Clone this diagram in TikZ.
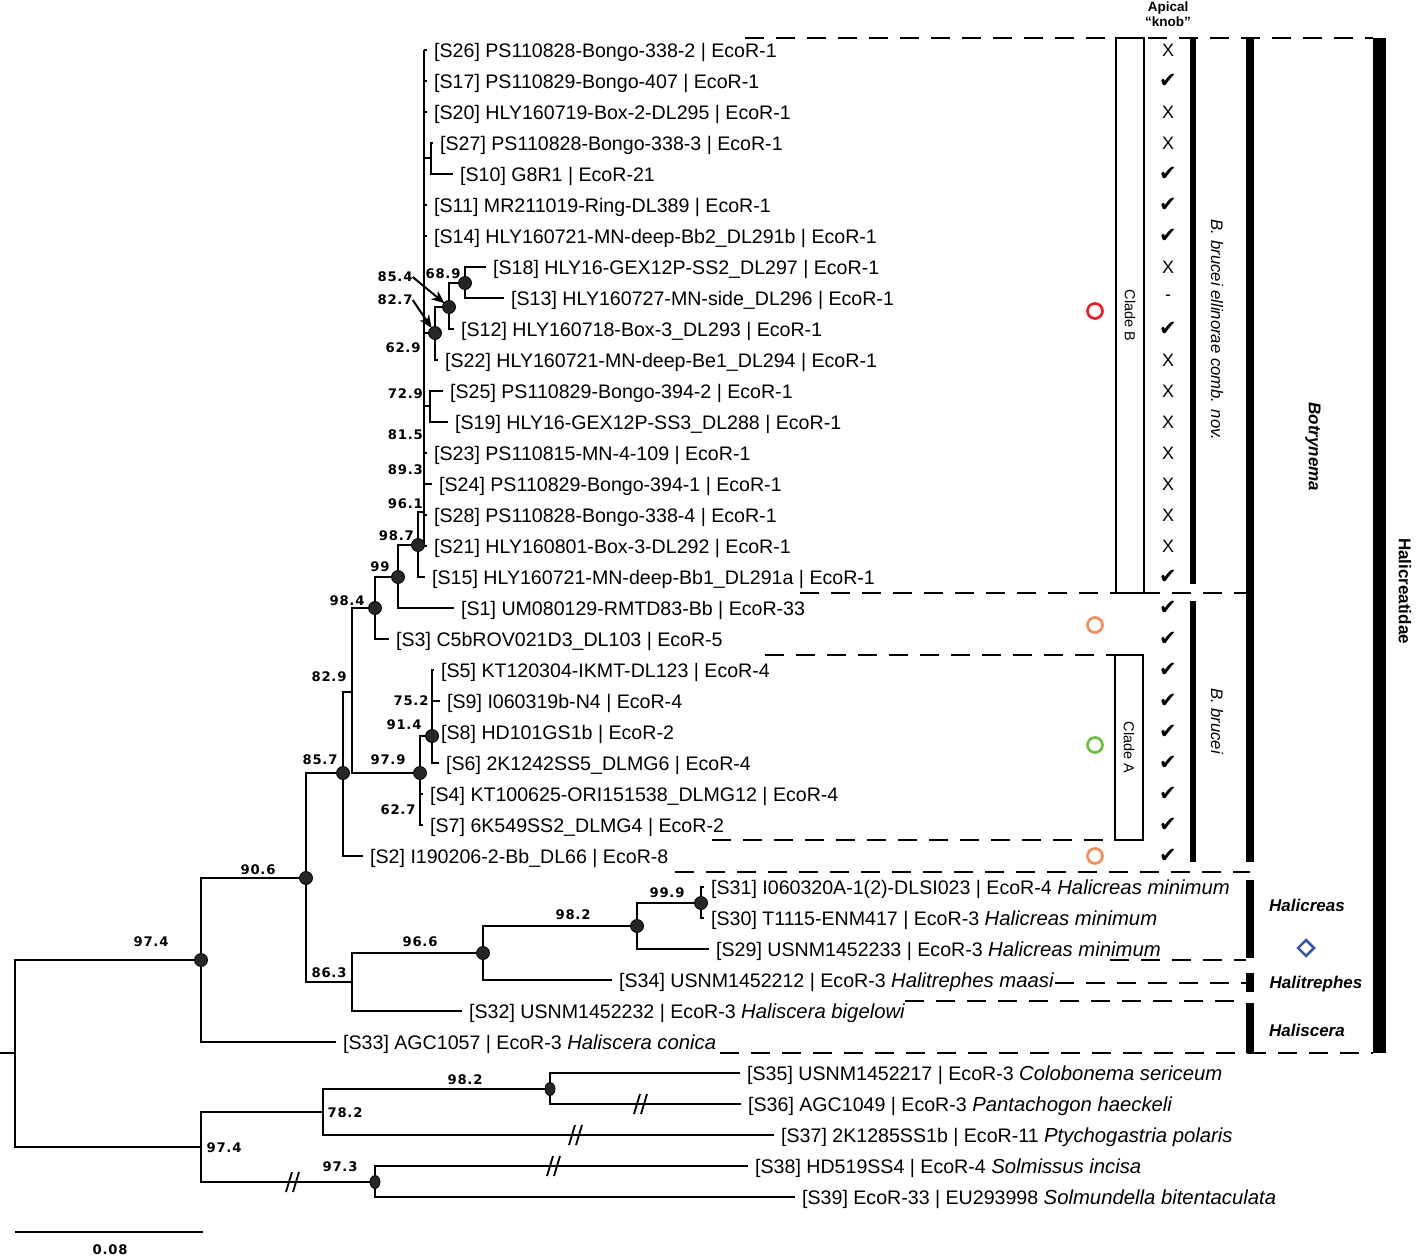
\documentclass[tikz,border=0pt]{standalone}
\usepackage{fontspec}
\setmainfont{Liberation Sans}
\newfontfamily\bsfont{DejaVu Sans}[LetterSpace=6]
\newfontfamily\checkfont{DejaVu Sans}
\usetikzlibrary{arrows.meta,shapes.geometric}

\definecolor{ringred}{HTML}{E32227}
\definecolor{ringorange}{HTML}{F28E5C}
\definecolor{ringgreen}{HTML}{6DBE45}
\definecolor{diamblue}{HTML}{3A55A4}

\newcommand{\kx}{X}
\newcommand{\kc}{{\checkfont\bfseries\fontsize{21}{21}\selectfont ✔}}
\newcommand{\kd}{-}
\newcommand{\spname}[1]{{\fontsize{20.3}{22}\selectfont\itshape #1}}

\begin{document}
\begin{tikzpicture}[x=1pt, y=-1pt,
    leaf/.style={anchor=west, inner xsep=7pt, inner ysep=0pt, text height=14pt, text depth=0pt, font=\fontsize{19.6}{22}\selectfont},
    bs/.style={inner sep=0pt, font=\bsfont\bfseries\fontsize{13.2}{13}\selectfont},
    branch/.style={line width=2.4pt},
    dot/.style={fill=black!85, draw=black, line width=0.8pt},
    cladeline/.style={line width=2.2pt, dash pattern=on 19pt off 12pt},
    knobsym/.style={inner sep=0pt, font=\fontsize{18}{18}\selectfont},
    ring/.style={circle, draw=#1, line width=2.7pt, minimum size=15pt, inner sep=0pt},
    cladebox/.style={draw, line width=1.8pt, rotate=-90, minimum height=28pt, inner sep=0pt, font=\fontsize{14.5}{15}\selectfont},
    taxon/.style={inner sep=0pt, font=\bfseries\itshape\fontsize{17}{17}\selectfont},
    brk/.style={line width=1.8pt},
    pointer/.style={line width=2pt, -{Stealth[length=13pt, width=11pt]}, shorten >=6pt}
]
    \useasboundingbox (0,0) rectangle (1416,1258);

    % Internal nodes
    \coordinate (rootstub) at (0,1053);
    \coordinate (root) at (15,1053);
    \coordinate (n974) at (201,960);
    \coordinate (n906) at (306,878);
    \coordinate (n857) at (343,773);
    \coordinate (n829) at (352,692);
    \coordinate (n984) at (375,608);
    \coordinate (n990) at (398,577);
    \coordinate (n987) at (418,545);
    \coordinate (n961) at (424,512);
    \coordinate (cbtop) at (424,50);
    \coordinate (cbbot) at (424,546);
    \coordinate (n2710) at (431,158);
    \coordinate (n827) at (435,333);
    \coordinate (n854) at (449,307);
    \coordinate (n689) at (465,283);
    \coordinate (n729) at (430,406);
    \coordinate (n979) at (420,773);
    \coordinate (n914) at (432,736);
    \coordinate (n863) at (352,982);
    \coordinate (n966) at (483,953);
    \coordinate (n982) at (637,926);
    \coordinate (n999) at (701,903);
    \coordinate (o974) at (201,1147);
    \coordinate (n782) at (323,1112);
    \coordinate (o982) at (550,1089);
    \coordinate (n973) at (375,1182);

    % Leaves
    \node[leaf] (s26) at (427,50) {[S26] PS110828-Bongo-338-2 | EcoR-1};
    \node[leaf] (s17) at (427,81) {[S17] PS110829-Bongo-407 | EcoR-1};
    \node[leaf] (s20) at (427,112) {[S20] HLY160719-Box-2-DL295 | EcoR-1};
    \node[leaf] (s27) at (433,143) {[S27] PS110828-Bongo-338-3 | EcoR-1};
    \node[leaf] (s10) at (453,174) {[S10] G8R1 | EcoR-21};
    \node[leaf] (s11) at (427,205) {[S11] MR211019-Ring-DL389 | EcoR-1};
    \node[leaf] (s14) at (427,236) {[S14] HLY160721-MN-deep-Bb2\_DL291b | EcoR-1};
    \node[leaf] (s18) at (486,267) {[S18] HLY16-GEX12P-SS2\_DL297 | EcoR-1};
    \node[leaf] (s13) at (504,298) {[S13] HLY160727-MN-side\_DL296 | EcoR-1};
    \node[leaf] (s12) at (454,329) {[S12] HLY160718-Box-3\_DL293 | EcoR-1};
    \node[leaf] (s22) at (438,360) {[S22] HLY160721-MN-deep-Be1\_DL294 | EcoR-1};
    \node[leaf] (s25) at (443,391) {[S25] PS110829-Bongo-394-2 | EcoR-1};
    \node[leaf] (s19) at (448,422) {[S19] HLY16-GEX12P-SS3\_DL288 | EcoR-1};
    \node[leaf] (s23) at (427,453) {[S23] PS110815-MN-4-109 | EcoR-1};
    \node[leaf] (s24) at (432,484) {[S24] PS110829-Bongo-394-1 | EcoR-1};
    \node[leaf] (s28) at (427,515) {[S28] PS110828-Bongo-338-4 | EcoR-1};
    \node[leaf] (s21) at (427,546) {[S21] HLY160801-Box-3-DL292 | EcoR-1};
    \node[leaf] (s15) at (425,577) {[S15] HLY160721-MN-deep-Bb1\_DL291a | EcoR-1};
    \node[leaf] (s1) at (454,608) {[S1] UM080129-RMTD83-Bb | EcoR-33};
    \node[leaf] (s3) at (389,639) {[S3] C5bROV021D3\_DL103 | EcoR-5};
    \node[leaf] (s5) at (434,670) {[S5] KT120304-IKMT-DL123 | EcoR-4};
    \node[leaf] (s9) at (440,701) {[S9] I060319b-N4 | EcoR-4};
    \node[leaf] (s8) at (434,732) {[S8] HD101GS1b | EcoR-2};
    \node[leaf] (s6) at (439,763) {[S6] 2K1242SS5\_DLMG6 | EcoR-4};
    \node[leaf] (s4) at (423,794) {[S4] KT100625-ORI151538\_DLMG12 | EcoR-4};
    \node[leaf] (s7) at (423,825) {[S7] 6K549SS2\_DLMG4 | EcoR-2};
    \node[leaf] (s2) at (363,856) {[S2] I190206-2-Bb\_DL66 | EcoR-8};
    \node[leaf] (s31) at (704,887) {[S31] I060320A-1(2)-DLSI023 | EcoR-4 \spname{Halicreas minimum}};
    \node[leaf] (s30) at (704,918) {[S30] T1115-ENM417 | EcoR-3 \spname{Halicreas minimum}};
    \node[leaf] (s29) at (709,949) {[S29] USNM1452233 | EcoR-3 \spname{Halicreas minimum}};
    \node[leaf] (s34) at (612,980) {[S34] USNM1452212 | EcoR-3 \spname{Halitrephes maasi}};
    \node[leaf] (s32) at (462,1011) {[S32] USNM1452232 | EcoR-3 \spname{Haliscera bigelowi}};
    \node[leaf] (s33) at (336,1042) {[S33] AGC1057 | EcoR-3 \spname{Haliscera conica}};
    \node[leaf] (s35) at (740,1073) {[S35] USNM1452217 | EcoR-3 \spname{Colobonema sericeum}};
    \node[leaf] (s36) at (741,1104) {[S36] AGC1049 | EcoR-3 \spname{Pantachogon haeckeli}};
    \node[leaf] (s37) at (774,1135) {[S37] 2K1285SS1b | EcoR-11 \spname{Ptychogastria polaris}};
    \node[leaf] (s38) at (748,1166) {[S38] HD519SS4 | EcoR-4 \spname{Solmissus incisa}};
    \node[leaf] (s39) at (795,1197) {[S39] EcoR-33 | EU293998 \spname{Solmundella bitentaculata}};

    % Branches
    \draw[branch] (rootstub) -- (root);
    \draw[branch] (root) |- (n974);
    \draw[branch] (root) |- (o974);
    \draw[branch] (n974) |- (n906);
    \draw[branch] (n974) |- (s33.west);
    \draw[branch] (n906) |- (n857);
    \draw[branch] (n906) |- (n863);
    \draw[branch] (n857) |- (n829);
    \draw[branch] (n857) |- (s2.west);
    \draw[branch] (n829) |- (n984);
    \draw[branch] (n829) |- (n979);
    \draw[branch] (n984) |- (n990);
    \draw[branch] (n984) |- (s3.west);
    \draw[branch] (n990) |- (n987);
    \draw[branch] (n990) |- (s1.west);
    \draw[branch] (n987) |- (n961);
    \draw[branch] (n987) |- (s15.west);
    \draw[branch] (cbtop) -- (cbbot);
    \foreach \s in {s26,s17,s20,s11,s14,s23,s24,s28,s21}
        \draw[branch] (cbtop |- \s.west) -- (\s.west);
    \draw[branch] (cbtop |- n2710) -- (n2710);
    \draw[branch] (n2710) |- (s27.west);
    \draw[branch] (n2710) |- (s10.west);
    \draw[branch] (cbtop |- n827) -- (n827);
    \draw[branch] (n827) |- (n854);
    \draw[branch] (n827) |- (s22.west);
    \draw[branch] (n854) |- (n689);
    \draw[branch] (n854) |- (s12.west);
    \draw[branch] (n689) |- (s18.west);
    \draw[branch] (n689) |- (s13.west);
    \draw[branch] (cbtop |- n729) -- (n729);
    \draw[branch] (n729) |- (s25.west);
    \draw[branch] (n729) |- (s19.west);
    \draw[branch] (n979) |- (n914);
    \draw[branch] (n979) |- (s4.west);
    \draw[branch] (n979) |- (s7.west);
    \draw[branch] (n914) |- (s5.west);
    \draw[branch] (n914) |- (s9.west);
    \draw[branch] (n914) |- (s8.west);
    \draw[branch] (n914) |- (s6.west);
    \draw[branch] (n863) |- (n966);
    \draw[branch] (n863) |- (s32.west);
    \draw[branch] (n966) |- (n982);
    \draw[branch] (n966) |- (s34.west);
    \draw[branch] (n982) |- (n999);
    \draw[branch] (n982) |- (s29.west);
    \draw[branch] (n999) |- (s31.west);
    \draw[branch] (n999) |- (s30.west);
    \draw[branch] (o974) |- (n782);
    \draw[branch] (o974) |- (n973);
    \draw[branch] (n782) |- (o982);
    \draw[branch] (n782) |- (s37.west);
    \draw[branch] (o982) |- (s35.west);
    \draw[branch] (o982) |- (s36.west);
    \draw[branch] (n973) |- (s38.west);
    \draw[branch] (n973) |- (s39.west);

    % Breaks on long branches
    \foreach \bx/\by in {292/1182, 575/1135, 640/1104, 553/1166} {
        \draw[brk] (\bx-6,\by+10) -- (\bx,\by-10);
        \draw[brk] (\bx+1,\by+10) -- (\bx+7,\by-10);
    }

    % Supported nodes
    \foreach \n in {n974,n906,n857,n984,n990,n987,n979,n914,n966,n982,n999,n827,n854,n689}
        \draw[dot] (\n) circle (6.5);
    \draw[dot] (o982) ellipse (5 and 6.5);
    \draw[dot] (n973) ellipse (5 and 6.5);

    % Bootstrap values
    \node[bs] (b974) at (151,942) {97.4};
    \node[bs] (b906) at (258,870) {90.6};
    \node[bs] (b857) at (320,760) {85.7};
    \node[bs] (b829) at (329,677) {82.9};
    \node[bs] (b984) at (347,601) {98.4};
    \node[bs] (b990) at (380,567) {99};
    \node[bs, anchor=east] (b987) at (414,536) {98.7};
    \node[bs, anchor=east] (b961) at (423,504) {96.1};
    \node[bs, anchor=east] (b893) at (423,470) {89.3};
    \node[bs, anchor=east] (b815) at (423,435) {81.5};
    \node[bs, anchor=east] (b729) at (423,394) {72.9};
    \node[bs] (b629) at (403,348) {62.9};
    \node[bs] (b827) at (395,300) {82.7};
    \node[bs] (b854) at (395,277) {85.4};
    \node[bs] (b689) at (443,274) {68.9};
    \node[bs] (b979) at (388,760) {97.9};
    \node[bs] (b914) at (404,725) {91.4};
    \node[bs] (b752) at (411,701) {75.2};
    \node[bs] (b627) at (398,810) {62.7};
    \node[bs] (b863) at (329,973) {86.3};
    \node[bs] (b966) at (420,942) {96.6};
    \node[bs] (b982) at (573,915) {98.2};
    \node[bs] (b999) at (667,893) {99.9};
    \node[bs] (c982) at (465,1080) {98.2};
    \node[bs] (b782) at (345,1113) {78.2};
    \node[bs] (c974) at (224,1148) {97.4};
    \node[bs] (b973) at (340,1167) {97.3};
    \draw[pointer] (b854.east) -- (n854);
    \draw[pointer] (b827.east) -- (n827);

    % Scale bar
    \coordinate (scaleL) at (15,1232);
    \coordinate (scaleR) at (203,1232);
    \draw[branch] (scaleL) -- (scaleR);
    \node[bs] (scale) at (110,1250) {0.08};

    % Dashed clade limits
    \draw[cladeline] (745,38) -- (1373,38);
    \draw[cladeline] (800,593) -- (1246,593);
    \draw[cladeline] (765,655) -- (1115,655);
    \draw[cladeline] (712,840) -- (1115,840);
    \draw[cladeline] (675,872) -- (1250,872);
    \draw[cladeline] (1110,960) -- (1246,960);
    \draw[cladeline] (1055,983) -- (1246,983);
    \draw[cladeline] (905,1001) -- (1246,1001);
    \draw[cladeline] (720,1053) -- (1373,1053);

    % Clade boxes
    \node[cladebox, minimum width=555pt, fill=white] (cladeB) at (1130,315.5) {Clade B};
    \node[cladebox, minimum width=185pt, fill=white] (cladeA) at (1129,747.5) {Clade A};

    % Rings
    \node[ring=ringred] (ringB) at (1095,311) {};
    \node[ring=ringorange] (ringS3) at (1095,625) {};
    \node[ring=ringgreen] (ringA) at (1095,745) {};
    \node[ring=ringorange] (ringS2) at (1095,856) {};

    % Apical knob column
    \node[align=center, inner sep=0pt, font=\bfseries\fontsize{13.5}{15}\selectfont] (apical) at (1168,14) {Apical\\“knob”};
    \foreach \r/\m in {0/\kx,1/\kc,2/\kx,3/\kx,4/\kc,5/\kc,6/\kc,7/\kx,8/\kd,9/\kc,
                       10/\kx,11/\kx,12/\kx,13/\kx,14/\kx,15/\kx,16/\kx,17/\kc,18/\kc,19/\kc,
                       20/\kc,21/\kc,22/\kc,23/\kc,24/\kc,25/\kc,26/\kc}
        \node[knobsym] (knob\r) at (1168,{50+31*\r}) {\m};

    % Bars
    \fill (1190,38) rectangle (1196,584);
    \fill (1190,601) rectangle (1196,862);
    \fill (1246,38) rectangle (1254,862);
    \fill (1246,880) rectangle (1254,958);
    \fill (1246,973) rectangle (1254,992);
    \fill (1246,1003) rectangle (1254,1053);
    \fill (1373,38) rectangle (1386,1053);

    % Taxon names
    \node[rotate=-90, inner sep=0pt, font=\itshape\fontsize{16.7}{17}\selectfont] (ellinorae) at (1217,330) {B. brucei ellinorae comb. nov.};
    \node[rotate=-90, inner sep=0pt, font=\itshape\fontsize{16.7}{17}\selectfont] (brucei) at (1217,721) {B. brucei};
    \node[taxon, rotate=-90] (botrynema) at (1313,447) {Botrynema};
    \node[taxon] (halicreas) at (1307,905) {Halicreas};
    \node[taxon] (halitrephes) at (1316,984) {Halitrephes};
    \node[taxon] (haliscera) at (1307,1030) {Haliscera};
    \node[rotate=-90, inner sep=0pt, font=\bfseries\fontsize{17}{17}\selectfont] (halicreatidae) at (1405,591) {Halicreatidae};
    \node[diamond, draw=diamblue, line width=2.5pt, minimum size=17pt, inner sep=0pt] (hdiamond) at (1306,948) {};
\end{tikzpicture}
\end{document}
